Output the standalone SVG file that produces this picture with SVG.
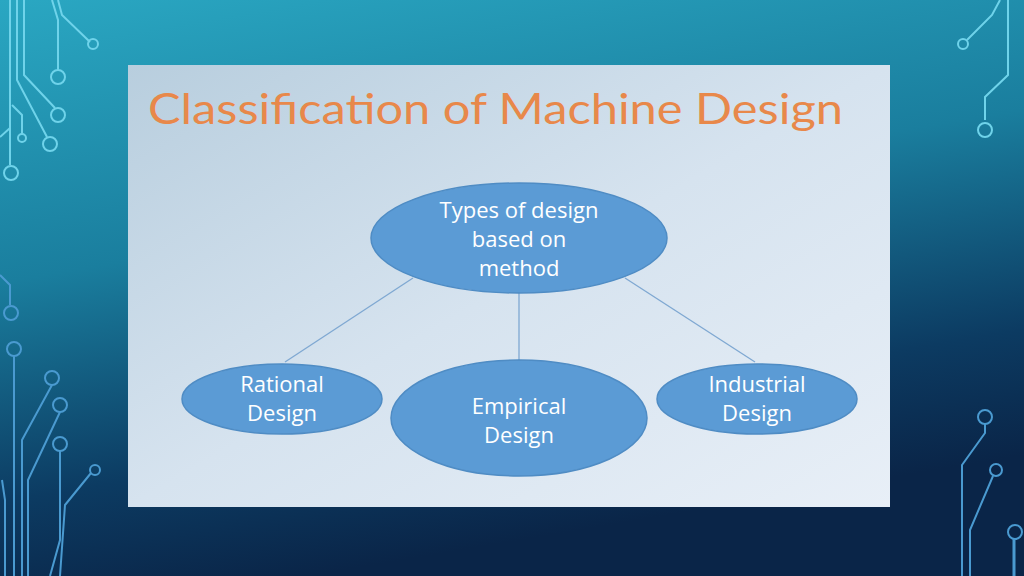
<svg xmlns="http://www.w3.org/2000/svg" width="1024" height="576" viewBox="0 0 1024 576">
<defs>
<linearGradient id="bg" x1="0" y1="0" x2="0.3" y2="1">
<stop offset="0" stop-color="#2aa7c2"/><stop offset="0.45" stop-color="#1a7e9e"/><stop offset="0.8" stop-color="#0c3b62"/><stop offset="1" stop-color="#0a2548"/>
</linearGradient>
<linearGradient id="panel" x1="0" y1="0" x2="1" y2="1">
<stop offset="0" stop-color="#b8cede"/><stop offset="0.5" stop-color="#d6e3ef"/><stop offset="1" stop-color="#e8eff7"/>
</linearGradient>
<style>
.c{fill:none;stroke:#6fd3ea;stroke-width:2}
.d{fill:none;stroke:#4a9ad0;stroke-width:2}
.n{fill:#5b9bd5;stroke:#4f8cc4;stroke-width:1.5}
.t{font-family:"Open Sans","Liberation Sans",sans-serif;font-size:22px;fill:#fff;text-anchor:middle}
.l{stroke:#7fa8d2;stroke-width:1.3}
</style>
</defs>
<rect width="1024" height="576" fill="url(#bg)"/>
<g id="circuits">
<path class="c" d="M10,0V165M17,0V80L47,137M24,0V75L55,108M52,0L58,20V70M58,0L62,15L90,42M12,105L22,115V134M0,137L10,128"/>
<circle class="c" cx="11" cy="173" r="7"/><circle class="c" cx="50" cy="144" r="7"/><circle class="c" cx="58" cy="115" r="7"/><circle class="c" cx="58" cy="77" r="7"/><circle class="c" cx="93" cy="44" r="5"/><circle class="c" cx="22" cy="138" r="4"/>
<path class="d" d="M0,275L10,285V305M14,356V576M52,385L22,440V576M60,412L28,480V576M60,451V540L50,576M91,473L65,505L60,576M2,480L5,500V576"/>
<circle class="d" cx="11" cy="313" r="7"/><circle class="d" cx="14" cy="349" r="7"/><circle class="d" cx="52" cy="378" r="7"/><circle class="d" cx="60" cy="405" r="7"/><circle class="d" cx="60" cy="444" r="7"/><circle class="d" cx="95" cy="470" r="5"/>
<path class="c" d="M1000,0L992,15L967,40M1008,0V75L985,97V120"/>
<circle class="c" cx="963" cy="44" r="5"/><circle class="c" cx="985" cy="130" r="7"/>
<path class="d" d="M985,424V433L962,465V576M993,476L970,530V576"/>
<path d="M1014,539V576" stroke="#4a9ad0" stroke-width="3"/>
<circle class="d" cx="985" cy="417" r="7"/><circle class="d" cx="996" cy="470" r="6"/><circle class="d" cx="1015" cy="532" r="7"/>
</g>
<rect x="128" y="65" width="762" height="442" fill="url(#panel)"/>
<text x="148" y="124" font-family="Lato,'Open Sans','Liberation Sans',sans-serif" font-size="42" fill="#e8884a" textLength="695" lengthAdjust="spacingAndGlyphs">Classification of Machine Design</text>
<g id="connectors">
<line class="l" x1="413" y1="278" x2="285" y2="362"/>
<line class="l" x1="519" y1="293" x2="519" y2="360"/>
<line class="l" x1="625" y1="278" x2="755" y2="362"/>
</g>
<g id="top"><ellipse class="n" cx="519" cy="238" rx="148" ry="55"/>
<text class="t"><tspan x="519" y="218">Types of design</tspan><tspan x="519" y="247">based on</tspan><tspan x="519" y="276">method</tspan></text></g>
<g id="rational"><ellipse class="n" cx="282" cy="399" rx="100" ry="35"/>
<text class="t"><tspan x="282" y="392">Rational</tspan><tspan x="282" y="421">Design</tspan></text></g>
<g id="empirical"><ellipse class="n" cx="519" cy="418" rx="128" ry="58"/>
<text class="t"><tspan x="519" y="414">Empirical</tspan><tspan x="519" y="443">Design</tspan></text></g>
<g id="industrial"><ellipse class="n" cx="757" cy="399" rx="100" ry="35"/>
<text class="t"><tspan x="757" y="392">Industrial</tspan><tspan x="757" y="421">Design</tspan></text></g>
</svg>
